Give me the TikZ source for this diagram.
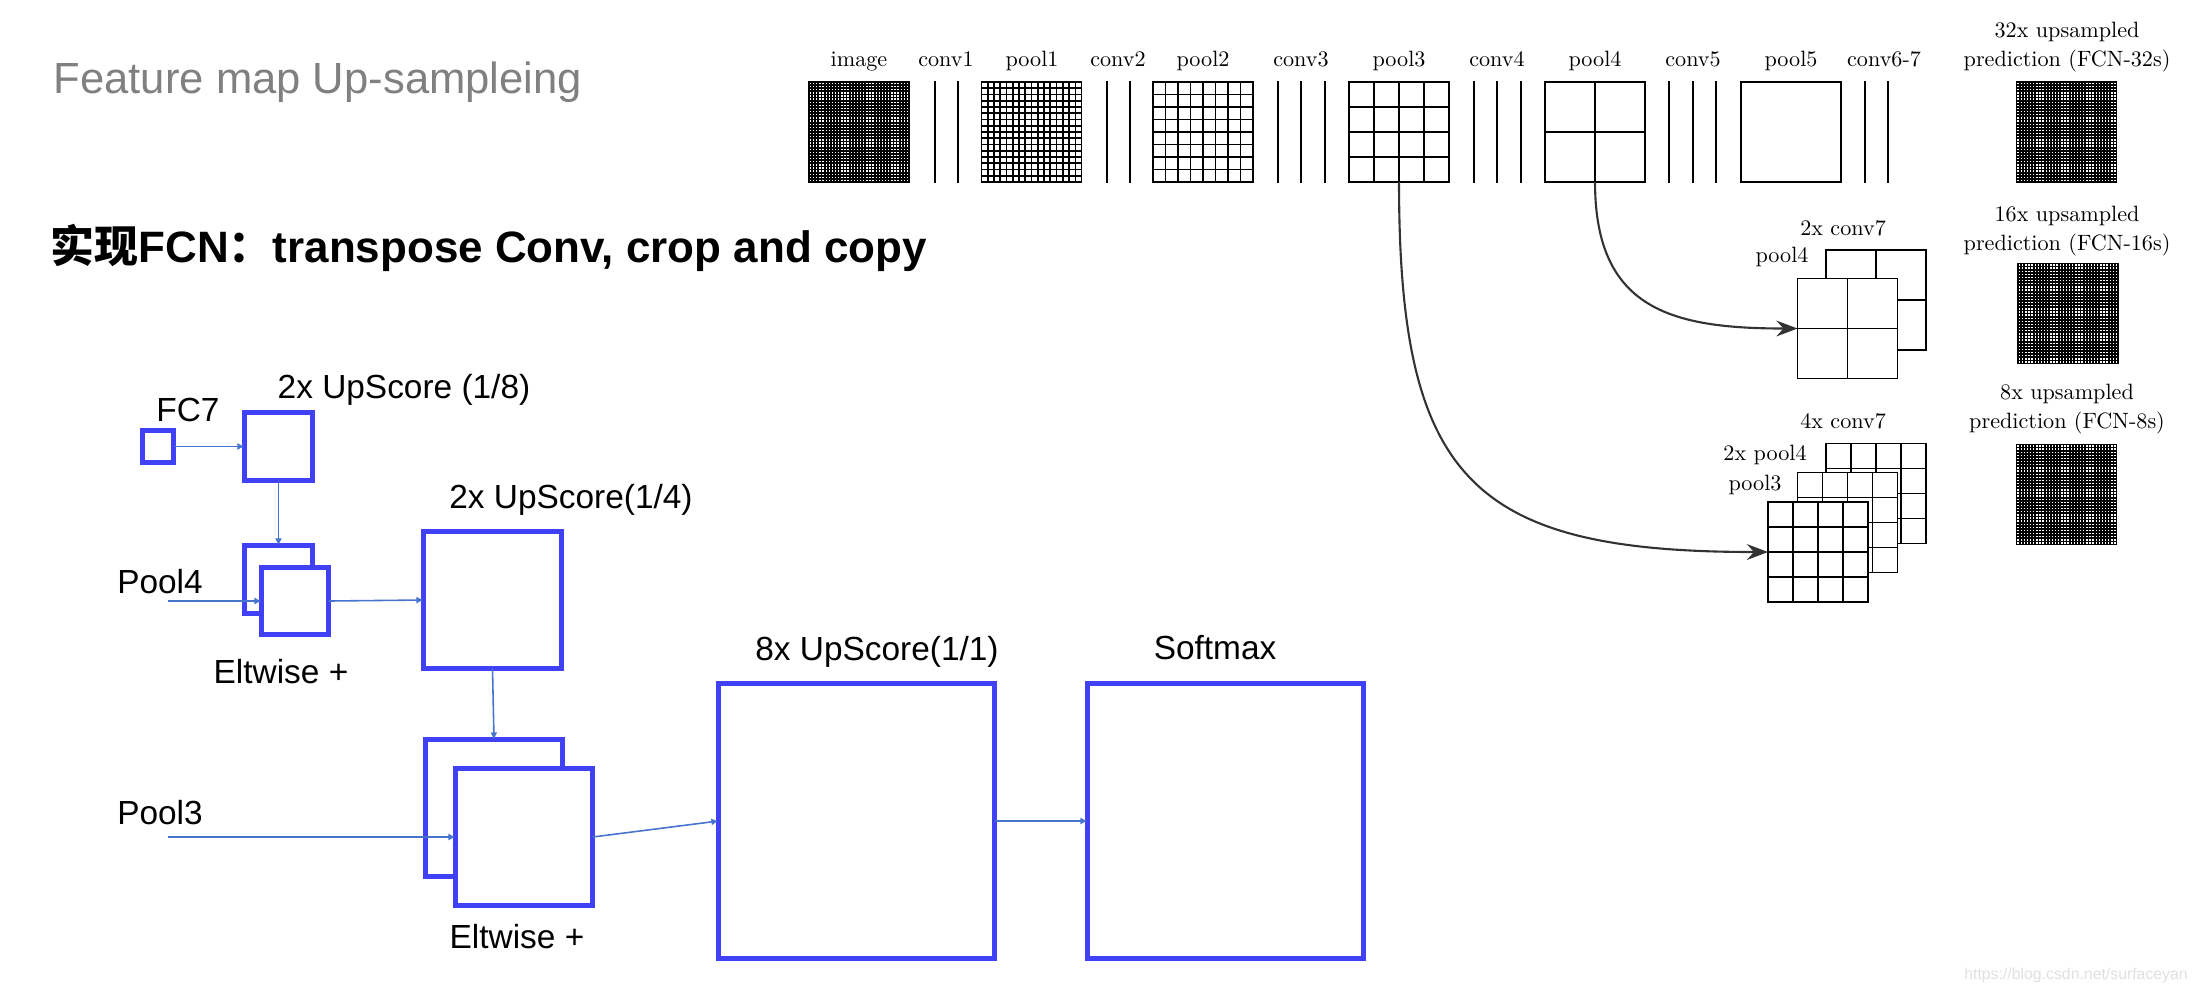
\documentclass[tikz,border=0pt]{standalone}
\usepackage{fontspec}
\usepackage{tikz}
\usetikzlibrary{arrows.meta,calc,positioning}

\newfontfamily\arial{Liberation Sans}
\newfontfamily\cjk{Noto Sans CJK SC}
\newfontfamily\cmten{lmroman10-regular}[Extension=.otf]

\definecolor{boxblue}{RGB}{64,64,245}
\definecolor{linkblue}{RGB}{70,115,205}
\definecolor{titlegray}{RGB}{128,128,128}

% grid lines inside a feature map node
\newcommand{\fmgrid}[3][]{%
  \pgfmathtruncatemacro{\fmlast}{#3-1}%
  \foreach \k in {1,...,\fmlast}{%
    \draw[#1] ($(#2.north west)!\k/#3!(#2.north east)$) -- ($(#2.south west)!\k/#3!(#2.south east)$);
    \draw[#1] ($(#2.north west)!\k/#3!(#2.south west)$) -- ($(#2.north east)!\k/#3!(#2.south east)$);
  }}

\begin{document}
\begin{tikzpicture}
	[x=0.01cm,y=-0.01cm,
		fmap/.style={draw,line width=0.5pt,inner sep=0pt,outer sep=0pt,minimum width=1cm,minimum height=1cm},
		stack/.style={fmap,fill=white},
		layer/.style={line width=0.5pt},
		lbl/.style={font=\cmten\fontsize{6.3}{7}\selectfont,inner sep=0pt,anchor=base},
		bbox/.style={draw=boxblue,line width=1.4pt,inner sep=0pt,outer sep=0pt,fill=white},
		txt/.style={font=\arial\fontsize{9.5}{11}\selectfont,inner sep=0pt},
		link/.style={draw=linkblue,line width=0.45pt,-{Latex[length=2pt,width=2pt]}},
		skip/.style={draw=black!80,line width=0.6pt,-{Stealth[length=6pt,width=4.5pt,inset=2pt]}}]

	\path[use as bounding box] (0,0) rectangle (2195,993);

	% titles
	\node[anchor=base west,inner sep=0pt,text=titlegray,font=\arial\fontsize{12.4}{14}\selectfont] (title) at (53,93) {Feature map Up-sampleing};
	\node[anchor=base west,inner sep=0pt,font=\arial\bfseries\fontsize{12.5}{14}\selectfont] (subtitle) at (50,262) {{\cjk 实现}FCN{\cjk ：}transpose Conv, crop and copy};

	% FCN-32s row
	\node[fmap] (img)   at (859,132)    {};
	\node[fmap] (pl1)   at (1031.5,132) {};
	\node[fmap] (pl2)   at (1203,132)   {};
	\node[fmap] (pl3)   at (1399,132)   {};
	\node[fmap] (pl4)   at (1595,132)   {};
	\node[fmap] (pl5)   at (1791,132)   {};
	\node[fmap] (out32) at (2066.5,132) {};
	\fmgrid[line width=0.5pt]{img}{32}
	\fmgrid[line width=0.45pt]{pl1}{16}
	\fmgrid[line width=0.5pt]{pl2}{8}
	\fmgrid[line width=0.5pt]{pl3}{4}
	\fmgrid[line width=0.5pt]{pl4}{2}
	\fmgrid[line width=0.5pt]{out32}{32}
	\foreach \x in {935,958,1107,1130,1278,1301,1325,1474,1497,1521,1669,1693,1716,1865,1888}
		\draw[layer] (\x,81) -- (\x,183);

	\node[lbl] (limg)  at (859,66)  {image};
	\node[lbl] (lc1)   at (946,66)  {conv1};
	\node[lbl] (lp1)   at (1032,66) {pool1};
	\node[lbl] (lc2)   at (1118,66) {conv2};
	\node[lbl] (lp2)   at (1203,66) {pool2};
	\node[lbl] (lc3)   at (1301,66) {conv3};
	\node[lbl] (lp3)   at (1399,66) {pool3};
	\node[lbl] (lc4)   at (1497,66) {conv4};
	\node[lbl] (lp4)   at (1595,66) {pool4};
	\node[lbl] (lc5)   at (1693,66) {conv5};
	\node[lbl] (lp5)   at (1791,66) {pool5};
	\node[lbl] (lc67)  at (1884,66) {conv6-7};
	\node[lbl] (l32a)  at (2067,37) {32x upsampled};
	\node[lbl] (l32b)  at (2067,66) {prediction (FCN-32s)};

	% FCN-16s
	\node[stack] (c7a)   at (1876,300)     {};
	\fmgrid{c7a}{2}
	\node[stack] (p4b)   at (1847.5,328.5) {};
	\fmgrid{p4b}{2}
	\node[fmap]  (out16) at (2068,313.5)   {};
	\fmgrid[line width=0.5pt]{out16}{32}
	\node[lbl] (lc7a) at (1843,235) {2x conv7};
	\node[lbl] (lp4b) at (1782,262) {pool4};
	\node[lbl] (l16a) at (2067,221) {16x upsampled};
	\node[lbl] (l16b) at (2067,250) {prediction (FCN-16s)};

	% FCN-8s
	\node[stack] (c7b)  at (1876,493.5)   {};
	\fmgrid{c7b}{4}
	\node[stack] (p4c)  at (1847.5,522.5) {};
	\fmgrid{p4c}{4}
	\node[stack] (p3b)  at (1818,552)     {};
	\fmgrid{p3b}{4}
	\node[fmap]  (out8) at (2066.5,494.5) {};
	\fmgrid[line width=0.5pt]{out8}{32}
	\node[lbl] (lc7b) at (1843,428) {4x conv7};
	\node[lbl] (lp4c) at (1765,460) {2x pool4};
	\node[lbl] (lp3b) at (1755,490) {pool3};
	\node[lbl] (l8a)  at (2067,399) {8x upsampled};
	\node[lbl] (l8b)  at (2067,428) {prediction (FCN-8s)};

	\draw[skip] (pl4.south) to[out=-90,in=180,looseness=1.3]  (p4b.west);
	\draw[skip] (pl3.south) to[out=-90,in=180,looseness=1.45] (p3b.west);

	% transpose conv, crop and copy
	\node[bbox,minimum width=0.31cm,minimum height=0.32cm] (fc7)  at (158,446.5)  {};
	\node[bbox,minimum width=0.68cm,minimum height=0.68cm] (up8)  at (278.5,446.5) {};
	\node[bbox,minimum width=0.68cm,minimum height=0.68cm] (elt1b) at (278.5,579.5) {};
	\node[bbox,minimum width=0.67cm,minimum height=0.67cm] (elt1f) at (295,601)    {};
	\node[bbox,minimum width=1.38cm,minimum height=1.37cm] (up4)  at (492.5,600)  {};
	\node[bbox,minimum width=1.37cm,minimum height=1.37cm] (elt2b) at (494,808)    {};
	\node[bbox,minimum width=1.37cm,minimum height=1.37cm] (elt2f) at (524,837)    {};
	\node[bbox,minimum width=2.76cm,minimum height=2.75cm] (up1)  at (856.5,821)  {};
	\node[bbox,minimum width=2.76cm,minimum height=2.75cm] (soft) at (1225.5,821) {};

	\node[txt] (lfc7)  at (188,410)  {FC7};
	\node[txt] (lup8)  at (404,390)  {2x UpScore (1/8)};
	\node[txt] (lpl4)  at (160,582)  {Pool4};
	\node[txt] (lelt1) at (281,672)  {Eltwise +};
	\node[txt] (lup4)  at (571,500)  {2x UpScore(1/4)};
	\node[txt] (lpl3)  at (160,813)  {Pool3};
	\node[txt] (lelt2) at (517,937)  {Eltwise +};
	\node[txt] (lup1)  at (877,652)  {8x UpScore(1/1)};
	\node[txt] (lsoft) at (1215,648) {Softmax};

	\coordinate (p4in) at (168,601);
	\coordinate (p3in) at (168,837);

	\path
	(fc7.east)   edge [link] (up8.west)
	(up8.south)  edge [link] (elt1b.north)
	(p4in)       edge [link] (elt1f.west)
	(elt1f.east) edge [link] (up4.west)
	(up4.south)  edge [link] (elt2b.north)
	(p3in)       edge [link] (elt2f.west)
	(elt2f.east) edge [link] (up1.west)
	(up1.east)   edge [link] (soft.west)
	;

	\node[inner sep=0pt,text=black!12,font=\arial\fontsize{4.5}{5}\selectfont] (wmark) at (2076,975) {https://blog.csdn.net/surfaceyan};

\end{tikzpicture}
\end{document}
